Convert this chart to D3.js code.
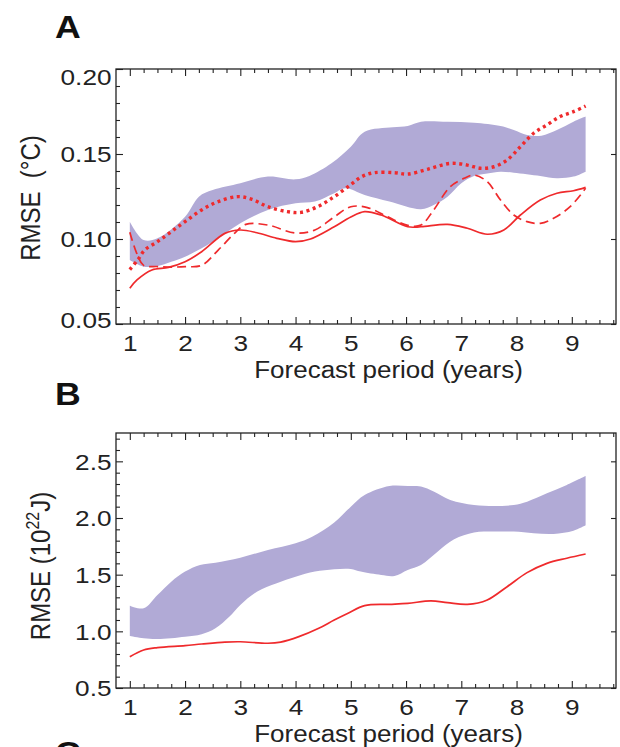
<!DOCTYPE html>
<html><head><meta charset="utf-8">
<script src="https://cdn.jsdelivr.net/npm/d3@7"></script>
<style>html,body{margin:0;padding:0;background:#fff;} svg{display:block;}</style>
</head><body>
<svg id="chart" width="620" height="747"></svg>
<script>
// ---------- data ----------
const yearTicks = [1, 2, 3, 4, 5, 6, 7, 8, 9];
const yTicksA = [0.05, 0.10, 0.15, 0.20];
const yTicksB = [0.5, 1.0, 1.5, 2.0, 2.5];

// Panel A: ensemble range (shaded) and three red curves, RMSE (°C)
const bandUpperA = [[1,0.1102],[1.25,0.0994],[1.5,0.1004],[2,0.1131],[2.25,0.1249],[2.5,0.1288],[3,0.1328],[3.5,0.1367],[4,0.1351],[4.25,0.1371],[4.65,0.1445],[5,0.1543],[5.25,0.1631],[5.76,0.1657],[6.03,0.1665],[6.27,0.169],[6.75,0.169],[7.23,0.1684],[7.71,0.1665],[7.95,0.1641],[8.19,0.1612],[8.45,0.1608],[8.73,0.1641],[9.03,0.169],[9.25,0.172]];
const bandLowerA = [[1,0.0876],[1.25,0.0837],[1.5,0.0841],[1.75,0.0866],[2,0.0896],[2.3,0.0945],[2.6,0.1004],[3,0.1092],[3.5,0.1171],[4,0.121],[4.35,0.122],[4.7,0.1269],[4.9,0.1298],[5.25,0.1259],[5.7,0.122],[6.27,0.1175],[6.5,0.12],[6.75,0.1249],[7,0.1328],[7.23,0.1371],[7.47,0.1386],[7.71,0.1396],[7.95,0.139],[8.43,0.1371],[8.73,0.1357],[9.03,0.1367],[9.25,0.1396]];
const solidA = [[1,0.071],[1.13,0.0759],[1.4,0.0818],[1.7,0.0833],[2,0.0866],[2.3,0.0925],[2.72,0.1033],[3,0.1053],[3.3,0.1037],[3.66,0.1004],[4,0.0984],[4.27,0.1],[4.7,0.1072],[5,0.113],[5.25,0.1161],[5.55,0.1141],[6.03,0.1072],[6.27,0.1072],[6.75,0.1086],[7.11,0.1063],[7.47,0.1028],[7.77,0.1053],[8.07,0.1141],[8.43,0.1229],[8.73,0.1269],[9.03,0.1284],[9.25,0.1304]];
const dashedA = [[1,0.104],[1.12,0.092],[1.25,0.0845],[1.5,0.0838],[1.75,0.0835],[2,0.0837],[2.3,0.0845],[2.6,0.0935],[2.9,0.1035],[3.1,0.1086],[3.5,0.1082],[4,0.1035],[4.35,0.1053],[4.7,0.113],[5,0.119],[5.3,0.1185],[5.67,0.113],[6.03,0.108],[6.27,0.1082],[6.5,0.1171],[6.8,0.1308],[7.05,0.1357],[7.23,0.1376],[7.47,0.1337],[7.71,0.1229],[7.95,0.1141],[8.19,0.1102],[8.43,0.1092],[8.67,0.1122],[8.97,0.119],[9.25,0.1298]];
const dottedA = [[1,0.082],[1.15,0.088],[1.27,0.0935],[1.5,0.0984],[1.75,0.1043],[2,0.1102],[2.3,0.1171],[2.6,0.122],[2.95,0.1249],[3.2,0.1235],[3.5,0.119],[3.85,0.1161],[4.1,0.1157],[4.4,0.119],[4.7,0.1249],[5,0.132],[5.2,0.1367],[5.42,0.139],[5.79,0.139],[6.03,0.1382],[6.39,0.141],[6.8,0.1445],[7.11,0.1435],[7.35,0.1416],[7.59,0.1425],[7.83,0.1465],[8.07,0.1543],[8.31,0.1622],[8.55,0.1671],[8.79,0.172],[9.03,0.1749],[9.25,0.1782]];

// Panel B: RMSE (10^22 J)
const bandUpperB = [[1,1.226],[1.25,1.203],[1.5,1.321],[1.75,1.438],[2,1.527],[2.27,1.586],[2.55,1.606],[3,1.65],[3.5,1.718],[4,1.777],[4.3,1.835],[4.7,1.96],[5,2.1],[5.25,2.203],[5.7,2.283],[6.03,2.283],[6.27,2.277],[6.5,2.233],[6.8,2.159],[7.23,2.115],[7.59,2.106],[7.95,2.115],[8.19,2.144],[8.55,2.218],[8.91,2.292],[9.25,2.37]];
const bandLowerB = [[1,0.959],[1.25,0.939],[1.5,0.932],[2,0.953],[2.3,0.974],[2.55,1.027],[2.8,1.129],[3,1.233],[3.3,1.35],[3.66,1.424],[4,1.482],[4.35,1.527],[4.7,1.548],[5,1.55],[5.18,1.527],[5.55,1.497],[5.79,1.489],[6.03,1.542],[6.27,1.586],[6.57,1.703],[6.87,1.812],[7.23,1.871],[7.59,1.88],[7.95,1.88],[8.31,1.865],[8.67,1.859],[9.03,1.888],[9.25,1.935]];
const solidB = [[1,0.776],[1.25,0.835],[1.5,0.856],[2,0.874],[2.3,0.888],[2.72,0.905],[3,0.908],[3.5,0.895],[3.73,0.905],[4.06,0.953],[4.42,1.027],[4.7,1.1],[4.95,1.16],[5.25,1.227],[5.7,1.238],[6.03,1.247],[6.45,1.268],[6.75,1.253],[7.11,1.238],[7.47,1.277],[7.83,1.394],[8.19,1.518],[8.55,1.6],[8.91,1.645],[9.25,1.682]];

// ---------- drawing ----------
const FONT = "'Liberation Sans', Arial, Helvetica, sans-serif";
const RED = "#ef2a2c";
const BAND = "#b1aad6";
const svg = d3.select("#chart");

const x = d3.scaleLinear().domain([0.75, 9.8]).range([116, 616]);
const quarterTicks = d3.range(1, 9.76, 0.25).filter(v => Math.abs(v - Math.round(v)) > 0.01);

function panel(opt) {
  const y = d3.scaleLinear().domain(opt.domain).range([opt.bottom, opt.top]);
  const g = svg.append("g");
  const line = d3.line().x(d => x(d[0])).y(d => y(d[1])).curve(d3.curveCatmullRom);

  // band
  const up = line(opt.upper);
  const lo = line(opt.lower.slice().reverse()).replace(/^M/, "L");
  g.append("path").attr("d", up + lo + "Z").attr("fill", BAND).attr("stroke", "none");

  // curves
  opt.curves.forEach(c => {
    g.append("path").attr("d", line(c.data)).attr("fill", "none")
      .attr("stroke", RED).attr("stroke-width", c.w)
      .attr("stroke-dasharray", c.dash || null)
      .attr("stroke-linecap", "butt").attr("stroke-linejoin", "round");
  });

  const minorY = d3.range(opt.domain[0], opt.domain[1] + 1e-9, opt.minorStep)
    .filter(v => !opt.yTicks.some(t => Math.abs(t - v) < 1e-6));

  function styleAxis(sel) {
    sel.select(".domain").remove();
    sel.attr("font-size", null).attr("font-family", null);
    sel.selectAll("line").attr("stroke", "#222").attr("stroke-width", 1.1);
  }

  // bottom
  const gb = g.append("g").attr("transform", `translate(0,${opt.bottom})`)
    .call(d3.axisBottom(x).tickValues(yearTicks).tickSize(-7).tickFormat(d3.format("d")));
  styleAxis(gb);
  gb.selectAll("text").attr("y", null).attr("dy", null)
    .attr("transform", `translate(0,${opt.xLabelOffset}) scale(1.19,1)`)
    .attr("font-size", 22).attr("font-family", FONT).attr("fill", "#222");
  styleAxis(g.append("g").attr("transform", `translate(0,${opt.bottom})`)
    .call(d3.axisBottom(x).tickValues(quarterTicks).tickSize(-4).tickFormat("")));

  // top
  styleAxis(g.append("g").attr("transform", `translate(0,${opt.top})`)
    .call(d3.axisTop(x).tickValues(yearTicks).tickSize(-7).tickFormat("")));
  styleAxis(g.append("g").attr("transform", `translate(0,${opt.top})`)
    .call(d3.axisTop(x).tickValues(quarterTicks).tickSize(-4).tickFormat("")));

  // left
  const gl = g.append("g").attr("transform", `translate(116,0)`)
    .call(d3.axisLeft(y).tickValues(opt.yTicks).tickSize(-7).tickFormat(d3.format(opt.fmt)));
  styleAxis(gl);
  gl.selectAll("text").attr("x", null).attr("dy", "0.36em")
    .attr("transform", d => {
      let s = 0;
      if (y(d) - opt.top < 4) s = opt.topLabelShift;
      if (opt.bottom - y(d) < 4) s = opt.bottomLabelShift;
      return `translate(-4.5,${s}) scale(1.19,1)`;
    })
    .attr("font-size", 22).attr("font-family", FONT).attr("fill", "#222");
  styleAxis(g.append("g").attr("transform", `translate(116,0)`)
    .call(d3.axisLeft(y).tickValues(minorY).tickSize(-4).tickFormat("")));

  // right
  styleAxis(g.append("g").attr("transform", `translate(616,0)`)
    .call(d3.axisRight(y).tickValues(opt.yTicks).tickSize(-5).tickFormat("")));

  // frame
  g.append("rect").attr("x", 116).attr("y", opt.top).attr("width", 500)
    .attr("height", opt.bottom - opt.top).attr("fill", "none")
    .attr("stroke", "#222").attr("stroke-width", 1.3);

  // x title
  g.append("text").attr("transform", `translate(388.5,${opt.xTitleY}) scale(1.13,1)`)
    .attr("text-anchor", "middle").attr("font-size", 23).attr("font-family", FONT)
    .attr("fill", "#222").text("Forecast period (years)");

  // y title
  const yt = g.append("text")
    .attr("transform", `translate(${opt.yTitleX},${opt.yTitleY}) rotate(-90) scale(1,1.19)`)
    .attr("text-anchor", "middle").attr("font-size", 24).attr("font-family", FONT).attr("fill", "#222");
  opt.yTitle(yt);

  // panel letter
  svg.append("text").attr("transform", `translate(55,${opt.letterY}) scale(1.15,1)`)
    .attr("font-size", 31).attr("font-weight", "bold").attr("font-family", FONT)
    .attr("fill", "#111").text(opt.letter);
}

panel({
  letter: "A", letterY: 38,
  top: 69, bottom: 324, domain: [0.05, 0.20], yTicks: yTicksA, minorStep: 0.01, fmt: ".2f",
  topLabelShift: 8, bottomLabelShift: -4, xLabelOffset: 26.7, xTitleY: 377.5,
  upper: bandUpperA, lower: bandLowerA,
  curves: [
    { data: solidA, w: 1.7 },
    { data: dashedA, w: 1.7, dash: "9,5" },
    { data: dottedA, w: 3.4, dash: "3,3.6" }
  ],
  yTitleX: 39.5, yTitleY: 198,
  yTitle: t => t.text("RMSE\u00a0\u00a0(\u00b0C)")
});

panel({
  letter: "B", letterY: 405,
  top: 433, bottom: 688, domain: [0.5, 2.75], yTicks: yTicksB, minorStep: 0.1, fmt: ".1f",
  topLabelShift: 0, bottomLabelShift: 0, xLabelOffset: 26.7, xTitleY: 741.5,
  upper: bandUpperB, lower: bandLowerB,
  curves: [ { data: solidB, w: 1.7 } ],
  yTitleX: 50, yTitleY: 566,
  yTitle: t => {
    t.append("tspan").text("RMSE\u00a0(10");
    t.append("tspan").attr("font-size", 16).attr("dy", -9).text("22");
    t.append("tspan").attr("dy", 9).text("J)");
  }
});

// next panel letter, cut off at bottom edge as in the reference
svg.append("text").attr("transform", "translate(55,764) scale(1.15,1)")
  .attr("font-size", 31).attr("font-weight", "bold").attr("font-family", FONT)
  .attr("fill", "#111").text("C");
</script>
</body></html>
